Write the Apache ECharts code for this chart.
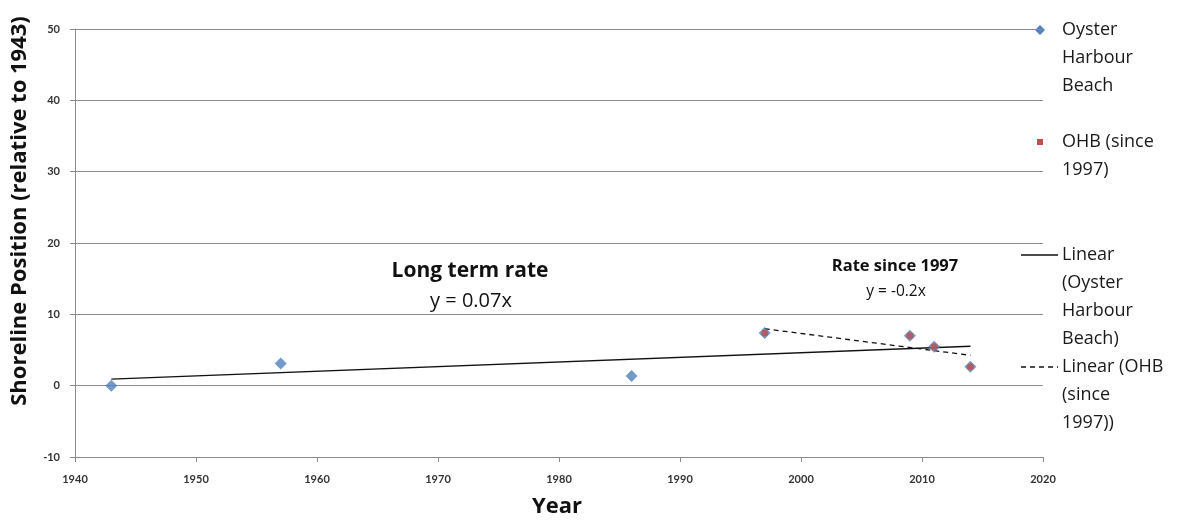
<!DOCTYPE html>
<html>
<head>
<meta charset="utf-8">
<script src="https://cdn.jsdelivr.net/npm/echarts@6/dist/echarts.min.js"></script>
<style>
  html, body { margin: 0; padding: 0; background: #fff; }
  #chart { width: 1180px; height: 523px; }
</style>
</head>
<body>
<div id="chart"></div>
<script>
// Survey years and shoreline positions (m, relative to 1943)
const years = [1943, 1957, 1986, 1997, 2009, 2011, 2014];
const positions = [0, 3.1, 1.35, 7.4, 7.0, 5.45, 2.65];
// Subset used for the recent-rate fit
const recentYears = [1997, 2009, 2011, 2014];
const recentPositions = [7.4, 7.0, 5.45, 2.65];

const xTicks = { min: 1940, max: 2020, interval: 10 };
const yTicks = { min: -10, max: 50, interval: 10 };

const FONT = '"Open Sans", Lato, sans-serif';
const TICK_FONT = 'Lato, "Open Sans", sans-serif';
const BLUE = '#4F81BD';
const RED = '#C0504D';
const GRID = '#8c8c8c';
const INK = '#111';

// Ordinary least-squares trend, returned as its two end points
function trend(xs, ys) {
  const n = xs.length;
  const mx = xs.reduce((a, b) => a + b, 0) / n;
  const my = ys.reduce((a, b) => a + b, 0) / n;
  let sxy = 0, sxx = 0;
  for (let i = 0; i < n; i++) {
    sxy += (xs[i] - mx) * (ys[i] - my);
    sxx += (xs[i] - mx) * (xs[i] - mx);
  }
  const b = sxy / sxx, a = my - b * mx;
  const x0 = Math.min(...xs), x1 = Math.max(...xs);
  return [[x0, a + b * x0], [x1, a + b * x1]];
}

const chart = echarts.init(document.getElementById('chart'), null, { renderer: 'canvas' });

const label = (x, y, text, font, extra) => Object.assign({
  type: 'text', x: x, y: y,
  style: { text: text, font: font, fill: INK, align: 'center', verticalAlign: 'middle' }
}, extra || {});

const legendText = (x, y, lines) => lines.map((t, i) => ({
  type: 'text', x: x, y: y + i * 28,
  style: { text: t, font: `18px ${FONT}`, fill: '#1a1a1a', verticalAlign: 'middle' }
}));

chart.setOption({
  animation: false,
  grid: { left: 75, right: 137, top: 29, bottom: 66, containLabel: false, outerBoundsMode: 'none' },
  xAxis: {
    type: 'value', min: xTicks.min, max: xTicks.max, interval: xTicks.interval,
    axisLine: { show: true, onZero: false, lineStyle: { color: GRID, width: 1 } },
    axisTick: { show: true, length: 5, lineStyle: { color: GRID } },
    axisLabel: { fontFamily: TICK_FONT, fontWeight: 'bold', fontSize: 11, color: '#333', margin: 17,
                 formatter: v => String(v) },
    splitLine: { show: false }
  },
  yAxis: {
    type: 'value', min: yTicks.min, max: yTicks.max, interval: yTicks.interval,
    axisLine: { show: true, lineStyle: { color: GRID, width: 1 } },
    axisTick: { show: true, length: 5, lineStyle: { color: GRID } },
    axisLabel: { fontFamily: TICK_FONT, fontWeight: 'bold', fontSize: 11, color: '#333', margin: 15 },
    splitLine: { show: true, lineStyle: { color: GRID, width: 1 } }
  },
  series: [
    {
      name: 'Linear (Oyster Harbour Beach)', type: 'line', symbol: 'none', z: 2,
      data: trend(years, positions),
      lineStyle: { color: INK, width: 1.3 }
    },
    {
      name: 'Linear (OHB (since 1997))', type: 'line', symbol: 'none', z: 2,
      data: trend(recentYears, recentPositions),
      lineStyle: { color: INK, width: 1.3, type: [5, 4] }
    },
    {
      name: 'Oyster Harbour Beach', type: 'scatter', symbol: 'diamond', symbolSize: 12, z: 3,
      data: years.map((y, i) => [y, positions[i]]),
      itemStyle: { color: BLUE }
    },
    {
      name: 'OHB (since 1997)', type: 'scatter', symbol: 'circle', symbolSize: 7, z: 4,
      data: recentYears.map((y, i) => [y, recentPositions[i]]),
      itemStyle: { color: RED }
    }
  ],
  graphic: [
    // Axis titles
    label(20, 211, 'Shoreline Position (relative to 1943)', `bold 22px ${FONT}`, { rotation: Math.PI / 2 }),
    label(557, 507, 'Year', `bold 22px ${FONT}`),
    // Rate annotations
    label(470, 271, 'Long term rate', `bold 21px ${FONT}`),
    label(471, 301, 'y = 0.07x', `20px ${FONT}`),
    label(895, 266, 'Rate since 1997', `bold 16.5px ${FONT}`),
    label(896, 292, 'y = -0.2x', `15.5px ${FONT}`),
    // Legend keys
    { type: 'polygon', shape: { points: [[1040, 25], [1045, 30], [1040, 35], [1035, 30]] },
      style: { fill: BLUE } },
    { type: 'rect', shape: { x: 1037, y: 139, width: 6, height: 6 }, style: { fill: RED } },
    { type: 'line', shape: { x1: 1021, y1: 255, x2: 1058, y2: 255 },
      style: { stroke: INK, lineWidth: 1.3 } },
    { type: 'line', shape: { x1: 1021, y1: 367, x2: 1058, y2: 367 },
      style: { stroke: INK, lineWidth: 1.3, lineDash: [5, 4] } },
    ...legendText(1062, 30, ['Oyster', 'Harbour', 'Beach']),
    ...legendText(1062, 142, ['OHB (since', '1997)']),
    ...legendText(1062, 255, ['Linear', '(Oyster', 'Harbour', 'Beach)']),
    ...legendText(1062, 367, ['Linear (OHB', '(since', '1997))'])
  ]
});
</script>
</body>
</html>
